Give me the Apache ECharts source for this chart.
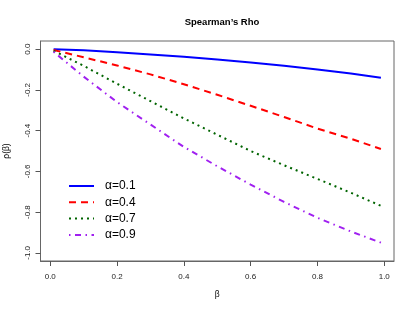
<!DOCTYPE html>
<html>
<head>
<meta charset="utf-8">
<script src="https://cdn.jsdelivr.net/npm/echarts@6/dist/echarts.min.js"></script>
<style>
html,body{margin:0;padding:0;background:#fff;}
#chart{width:415px;height:312px;}
</style>
</head>
<body>
<div id="chart"></div>
<script>
var betas = [0.01, 0.1, 0.2, 0.3, 0.4, 0.5, 0.6, 0.7, 0.8, 0.9, 0.99];
var rho01 = [0, -0.006, -0.015, -0.026, -0.037, -0.051, -0.065, -0.082, -0.100, -0.120, -0.140];
var rho04 = [-0.004, -0.040, -0.080, -0.124, -0.172, -0.224, -0.278, -0.333, -0.390, -0.440, -0.490];
var rho07 = [-0.008, -0.082, -0.170, -0.255, -0.340, -0.420, -0.500, -0.570, -0.637, -0.705, -0.769];
var rho09 = [-0.013, -0.135, -0.260, -0.370, -0.480, -0.575, -0.665, -0.750, -0.828, -0.895, -0.950];
var seriesNames = ['\u03b1=0.1', '\u03b1=0.4', '\u03b1=0.7', '\u03b1=0.9'];
var xTicks = [0, 0.2, 0.4, 0.6, 0.8, 1.0];
var yTicks = [0, -0.2, -0.4, -0.6, -0.8, -1.0];

function pairs(ys) { return betas.map(function (b, i) { return [b, ys[i]]; }); }

var FONT = '"Liberation Sans", Arial, sans-serif';
var chart = echarts.init(document.getElementById('chart'), null, {renderer: 'canvas'});
var styles = [
  {color: '#0000FF', type: 'solid'},
  {color: '#FF0000', type: [7, 5]},
  {color: '#006400', type: [2, 4]},
  {color: '#A020F0', type: [1.5, 4.5, 6, 4.5]}
];
var datasets = [rho01, rho04, rho07, rho09];
chart.setOption({
  animation: false,
  backgroundColor: '#fff',
  title: {
    text: "Spearman\u2019s Rho",
    left: 217, textAlign: 'center', top: 12,
    textStyle: {fontFamily: FONT, fontSize: 9.5, fontWeight: 'bold', color: '#000'}
  },
  grid: {left: 40.5, right: 21, top: 41, bottom: 51, show: true, borderColor: '#666', borderWidth: 1,
    backgroundColor: 'transparent', containLabel: false, outerBoundsMode: 'none'},
  legend: {
    orient: 'vertical', left: 63, top: 175,
    itemWidth: 25, itemHeight: 10, itemGap: 4.3,
    itemStyle: {opacity: 0},
    textStyle: {fontFamily: FONT, fontSize: 12, color: '#000', padding: [0, 0, 0, 6]},
    data: seriesNames
  },
  xAxis: {
    type: 'value', min: -0.0292, max: 1.0292,
    name: '\u03b2', nameLocation: 'middle', nameGap: 29,
    nameTextStyle: {fontFamily: FONT, fontSize: 8.5, color: '#000'},
    axisLine: {show: true, onZero: false, lineStyle: {color: '#666', width: 1}},
    splitLine: {show: false},
    axisTick: {show: true, inside: false, length: 5, lineStyle: {color: '#555', width: 1}, customValues: xTicks},
    axisLabel: {show: true, margin: 12, fontFamily: FONT, fontSize: 8, color: '#222', customValues: xTicks,
      formatter: function (v) { return v.toFixed(1); }}
  },
  yAxis: {
    type: 'value', min: -1.04, max: 0.04,
    name: '\u03c1(\u03b2)', nameLocation: 'middle', nameGap: 29, nameRotate: 90,
    nameTextStyle: {fontFamily: FONT, fontSize: 8.5, color: '#000'},
    axisLine: {show: true, onZero: false, lineStyle: {color: '#666', width: 1}},
    splitLine: {show: false},
    axisTick: {show: true, inside: false, length: 5, lineStyle: {color: '#555', width: 1}, customValues: yTicks},
    axisLabel: {show: true, margin: 9, rotate: 90, fontFamily: FONT, fontSize: 8, color: '#222', customValues: yTicks,
      formatter: function (v) { return v.toFixed(1); }}
  },
  series: datasets.map(function (d, i) {
    return {
      name: seriesNames[i], type: 'line', data: pairs(d), symbol: 'none', smooth: false,
      itemStyle: {color: styles[i].color},
      lineStyle: {color: styles[i].color, width: 2, type: styles[i].type, cap: 'butt'}
    };
  })
});
</script>
</body>
</html>
